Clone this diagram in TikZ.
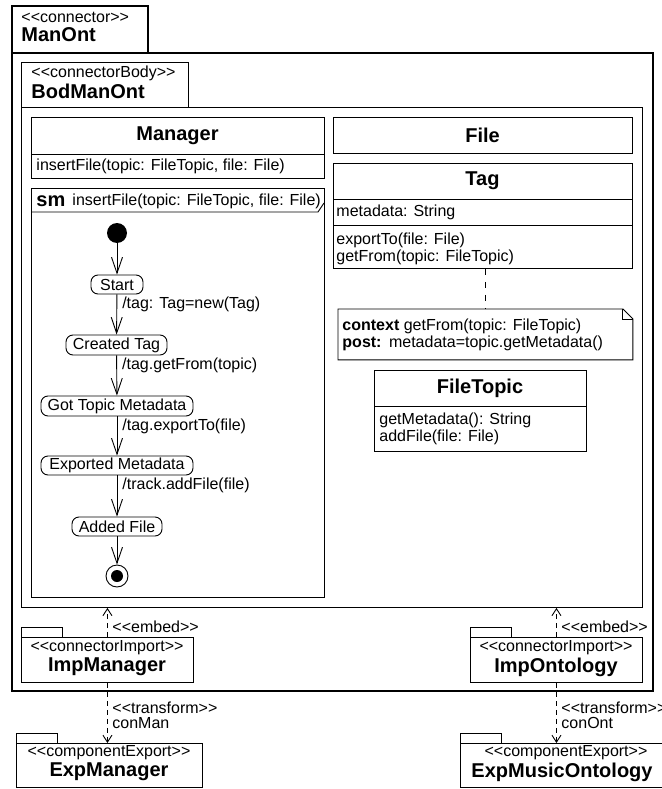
\documentclass[tikz,border=0pt]{standalone}
\usepackage{fontspec}
\setmainfont{Liberation Sans}[Ligatures=TeXOff]
\usetikzlibrary{arrows.meta}
\newcommand\stereo[1]{<<#1>>}
\begin{document}
\begin{tikzpicture}[x=1pt,y=-1pt,
  line width=0.9pt,
  every node/.style={inner sep=0pt, font=\fontsize{16}{17}\selectfont},
  txt/.style={anchor=west},
  title/.style={font=\fontsize{20}{24}\selectfont\bfseries},
  box/.style={draw, anchor=north west, inner sep=0pt},
  heavy/.style={line width=2pt},
  state/.style={draw, rounded corners=7pt, minimum height=19pt},
  smarrow/.style={-{Straight Barb[length=16pt,width=11pt]}},
  dep/.style={dash pattern=on 5pt off 4pt, -{Straight Barb[length=7pt,width=9pt]}},
  notelink/.style={dash pattern=on 6pt off 7pt},
  lbl/.style={anchor=west, xshift=5pt, pos=0.25}]

\path[use as bounding box, fill=white] (0,0) rectangle (661,789);

% connector package ManOnt
\node[box, heavy, minimum width=136pt, minimum height=47pt] (manont-tab) at (11,5) {};
\node[box, heavy, minimum width=641pt, minimum height=638pt] (manont) at (11,52) {};
\node[txt] (manont-st) at (21,17) {\stereo{connector}};
\node[txt, title] (manont-nm) at (21,35) {ManOnt};

% connector body BodManOnt
\node[box, minimum width=167pt, minimum height=45pt] (bod-tab) at (21,62) {};
\node[box, minimum width=621pt, minimum height=500pt] (bod) at (21,107) {};
\node[txt] (bod-st) at (31,73) {\stereo{connectorBody}};
\node[txt, title] (bod-nm) at (31,91) {BodManOnt};

% class Manager
\node[box, minimum width=293pt, minimum height=61pt] (mgr) at (31,117) {};
\draw (31,154) -- (324,154);
\node[title] (mgr-nm) at (177.5,135.5) {Manager};
\node[txt] (mgr-op) at (36,166) {insertFile(topic: FileTopic, file: File)};

% state machine frame
\node[box, minimum width=293pt, minimum height=409pt] (sm) at (31,188) {};
\draw (31,212) -- (318,212) -- (324,203);
\node[txt, title] (sm-kw) at (36,201) {sm};
\node[txt] (sm-nm) at (72,201) {insertFile(topic: FileTopic, file: File)};

% states
\node[circle, fill, minimum size=20pt] (init) at (117,233) {};
\node[state, minimum width=52pt] (start) at (117,284.5) {Start};
\node[state, minimum width=101pt, minimum height=20pt] (created) at (116.5,345) {Created Tag};
\node[state, minimum width=152pt, minimum height=20pt] (gotmeta) at (117,406) {Got Topic Metadata};
\node[state, minimum width=152pt] (exported) at (117,465.5) {Exported Metadata};
\node[state, minimum width=90pt] (added) at (117,526.5) {Added File};
\node[circle, draw, minimum size=22pt] (final) at (117,576) {};
\node[circle, fill, minimum size=12pt] (final-dot) at (final.center) {};

% transitions
\draw[smarrow] (init) -- (start);
\draw[smarrow] (start) -- node[lbl] (t1) {/tag: Tag=new(Tag)} (created);
\draw[smarrow] (created) -- node[lbl] (t2) {/tag.getFrom(topic)} (gotmeta);
\draw[smarrow] (gotmeta) -- node[lbl] (t3) {/tag.exportTo(file)} (exported);
\draw[smarrow] (exported) -- node[lbl] (t4) {/track.addFile(file)} (added);
\draw[smarrow] (added) -- (final);

% class File
\node[box, minimum width=299pt, minimum height=36pt] (file) at (333,117) {};
\node[title] (file-nm) at (482.5,135) {File};

% class Tag
\node[box, minimum width=299pt, minimum height=105pt] (tag) at (333,163) {};
\draw (333,199) -- (632,199);
\draw (333,225) -- (632,225);
\node[title] (tag-nm) at (482.5,181) {Tag};
\node[txt] (tag-at) at (336,212) {metadata: String};
\node[txt] (tag-op1) at (336,240) {exportTo(file: File)};
\node[txt] (tag-op2) at (336,257) {getFrom(topic: FileTopic)};

% OCL note
\node[anchor=north west, minimum width=294pt, minimum height=50pt] (note) at (338,309) {};
\draw (note.north west) -- ([xshift=-10pt]note.north east) -- ([yshift=-10pt]note.north east)
      -- (note.south east) -- (note.south west) -- cycle;
\draw ([xshift=-10pt]note.north east) -- ([xshift=-10pt,yshift=-10pt]note.north east)
      -- ([yshift=-10pt]note.north east);
\node[txt] (note-l1) at (342,326) {\textbf{context} getFrom(topic: FileTopic)};
\node[txt] (note-l2) at (342,343) {\textbf{post:}\hspace{7.5pt}metadata=topic.getMetadata()};
\draw[notelink] (note.north |- tag.south) -- (note.north);

% class FileTopic
\node[box, minimum width=212pt, minimum height=81pt] (ftopic) at (374,370) {};
\draw (374,406) -- (586,406);
\node[title] (ftopic-nm) at (480,388) {FileTopic};
\node[txt] (ftopic-op1) at (379,420) {getMetadata(): String};
\node[txt] (ftopic-op2) at (379,437) {addFile(file: File)};

% import package ImpManager
\node[box, minimum width=41pt, minimum height=10pt] (impman-tab) at (21,627) {};
\node[box, minimum width=172pt, minimum height=45pt] (impman) at (21,637) {};
\node (impman-st) at (107,648) {\stereo{connectorImport}};
\node[title] (impman-nm) at (107,667) {ImpManager};

% import package ImpOntology
\node[box, minimum width=41pt, minimum height=10pt] (impont-tab) at (470,627) {};
\node[box, minimum width=172pt, minimum height=45pt] (impont) at (470,637) {};
\node (impont-st) at (556,648) {\stereo{connectorImport}};
\node[title] (impont-nm) at (556,667) {ImpOntology};

% export package ExpManager
\node[box, minimum width=41pt, minimum height=10pt] (expman-tab) at (16,733) {};
\node[box, minimum width=186pt, minimum height=44pt] (expman) at (16,743) {};
\node (expman-st) at (109,753) {\stereo{componentExport}};
\node[title] (expman-nm) at (109,772) {ExpManager};

% export package ExpMusicOntology
\node[box, minimum width=41pt, minimum height=10pt] (expmus-tab) at (460,733) {};
\node[box, minimum width=204pt, minimum height=44pt] (expmus) at (460,743) {};
\node (expmus-st) at (566,753) {\stereo{componentExport}};
\node[title] (expmus-nm) at (562,772) {ExpMusicOntology};

% embed and transform dependencies
\draw[dep] (impman.north) -- (impman.north |- bod.south);
\node[txt] (emb1) at (112,627) {\stereo{embed}};
\draw[dep] (impont.north) -- (impont.north |- bod.south);
\node[txt] (emb2) at (561,627) {\stereo{embed}};
\draw[dep] (impman.south) -- (impman.south |- expman.north);
\node[txt] (tr1-st) at (112,708) {\stereo{transform}};
\node[txt] (tr1-nm) at (112,723) {conMan};
\draw[dep] (impont.south) -- (impont.south |- expmus.north);
\node[txt] (tr2-st) at (561,708) {\stereo{transform}};
\node[txt] (tr2-nm) at (561,723) {conOnt};
\end{tikzpicture}
\end{document}
